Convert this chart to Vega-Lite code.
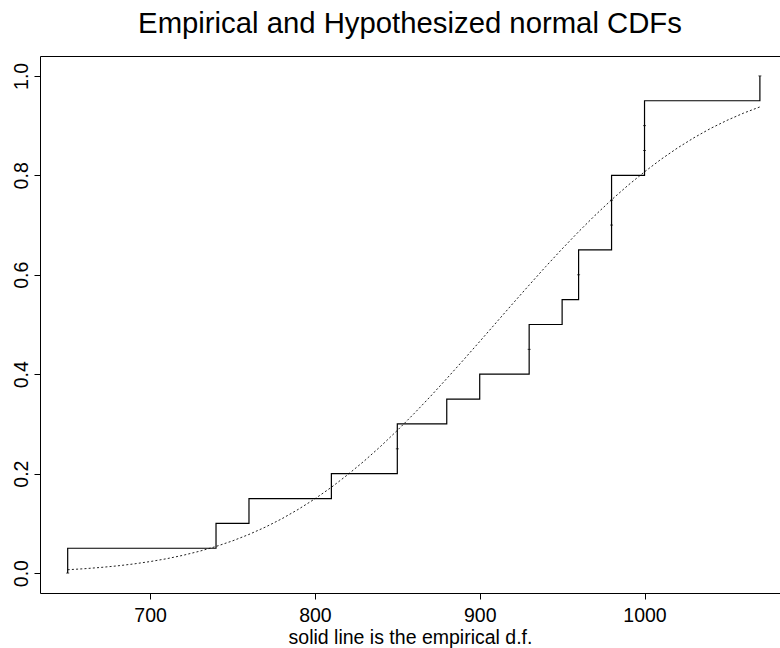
{
  "$schema": "https://vega.github.io/schema/vega-lite/v6.json",
  "width": 740,
  "height": 537,
  "autosize": {"type": "none"},
  "padding": {"left": 40, "top": 56, "right": 0, "bottom": 55},
  "background": "white",
  "config": {
    "view": {"stroke": null},
    "font": "Liberation Sans",
    "axis": {
      "grid": false,
      "domainColor": "black",
      "domainWidth": 1,
      "tickColor": "black",
      "tickWidth": 1,
      "labelColor": "black",
      "titleColor": "black",
      "labelFont": "Liberation Sans",
      "titleFont": "Liberation Sans"
    }
  },
  "title": {
    "text": "Empirical and Hypothesized normal CDFs",
    "fontSize": 29.3,
    "fontWeight": "normal",
    "font": "Liberation Sans",
    "color": "black",
    "anchor": "middle",
    "frame": "group",
    "baseline": "alphabetic",
    "offset": -6
  },
  "datasets": {
    "normal": [
      {"x": 650, "p": 0.0068}, {"x": 660, "p": 0.0088}, {"x": 670, "p": 0.0114},
      {"x": 680, "p": 0.0145}, {"x": 690, "p": 0.0184}, {"x": 700, "p": 0.0232},
      {"x": 710, "p": 0.0289}, {"x": 720, "p": 0.0358}, {"x": 730, "p": 0.0440},
      {"x": 740, "p": 0.0536}, {"x": 750, "p": 0.0648}, {"x": 760, "p": 0.0778},
      {"x": 770, "p": 0.0926}, {"x": 780, "p": 0.1094}, {"x": 790, "p": 0.1284},
      {"x": 800, "p": 0.1494}, {"x": 810, "p": 0.1726}, {"x": 820, "p": 0.1982},
      {"x": 830, "p": 0.2257}, {"x": 840, "p": 0.2553}, {"x": 850, "p": 0.2870},
      {"x": 860, "p": 0.3202}, {"x": 870, "p": 0.3550}, {"x": 880, "p": 0.3912},
      {"x": 890, "p": 0.4282}, {"x": 900, "p": 0.4658}, {"x": 910, "p": 0.5038},
      {"x": 920, "p": 0.5418}, {"x": 930, "p": 0.5793}, {"x": 940, "p": 0.6163},
      {"x": 950, "p": 0.6521}, {"x": 960, "p": 0.6866}, {"x": 970, "p": 0.7196},
      {"x": 980, "p": 0.7508}, {"x": 990, "p": 0.7800}, {"x": 1000, "p": 0.8071},
      {"x": 1010, "p": 0.8322}, {"x": 1020, "p": 0.8550}, {"x": 1030, "p": 0.8756},
      {"x": 1040, "p": 0.8942}, {"x": 1050, "p": 0.9105}, {"x": 1060, "p": 0.9250},
      {"x": 1070, "p": 0.9376}
    ],
    "ecdf": [
      {"ord": 0, "x": 650, "F": 0.0},
      {"ord": 1, "x": 650, "F": 0.05},
      {"ord": 2, "x": 740, "F": 0.10},
      {"ord": 3, "x": 760, "F": 0.15},
      {"ord": 4, "x": 810, "F": 0.20},
      {"ord": 5, "x": 850, "F": 0.30},
      {"ord": 6, "x": 880, "F": 0.35},
      {"ord": 7, "x": 900, "F": 0.40},
      {"ord": 8, "x": 930, "F": 0.50},
      {"ord": 9, "x": 950, "F": 0.55},
      {"ord": 10, "x": 960, "F": 0.65},
      {"ord": 11, "x": 980, "F": 0.80},
      {"ord": 12, "x": 1000, "F": 0.95},
      {"ord": 13, "x": 1070, "F": 1.00}
    ],
    "obs": [
      {"x": 650, "lo": 0.00}, {"x": 850, "lo": 0.25}, {"x": 930, "lo": 0.45},
      {"x": 960, "lo": 0.60}, {"x": 980, "lo": 0.70}, {"x": 980, "lo": 0.75},
      {"x": 1000, "lo": 0.85}, {"x": 1000, "lo": 0.90}, {"x": 1070, "lo": 1.00}
    ]
  },
  "layer": [
    {
      "data": {"name": "normal"},
      "mark": {"type": "line", "stroke": "#222", "strokeWidth": 1, "strokeDash": [2, 2.2]},
      "encoding": {
        "x": {
          "field": "x", "type": "quantitative",
          "scale": {"domain": [633.2, 1082.2], "nice": false, "zero": false},
          "axis": {"orient": "top", "labels": false, "ticks": false, "title": null, "domain": true}
        },
        "y": {
          "field": "p", "type": "quantitative",
          "scale": {"domain": [-0.04, 1.04], "nice": false, "zero": false}
        }
      }
    },
    {
      "data": {"name": "ecdf"},
      "mark": {"type": "line", "interpolate": "step-after", "stroke": "black", "strokeWidth": 1.2},
      "encoding": {
        "x": {
          "field": "x", "type": "quantitative",
          "scale": {"domain": [633.2, 1082.2], "nice": false, "zero": false},
          "axis": {
            "orient": "bottom",
            "values": [700, 800, 900, 1000],
            "format": "d",
            "title": "solid line is the empirical d.f.",
            "tickSize": 6,
            "labelPadding": 22,
            "labelBaseline": "alphabetic",
            "labelFontSize": 19.5,
            "labelFlush": false,
            "labelOverlap": false,
            "titleFontSize": 19.5,
            "titleFontWeight": "normal",
            "titleBaseline": "alphabetic",
            "titleY": 50
          }
        },
        "y": {
          "field": "F", "type": "quantitative",
          "scale": {"domain": [-0.04, 1.04], "nice": false, "zero": false},
          "axis": {
            "values": [0, 0.2, 0.4, 0.6, 0.8, 1.0],
            "format": ".1f",
            "title": null,
            "tickSize": 6,
            "labelAngle": 270,
            "labelAlign": "center",
            "labelBaseline": "alphabetic",
            "labelPadding": 7,
            "labelFontSize": 19.5,
            "labelFlush": false,
            "labelOverlap": false
          }
        },
        "order": {"field": "ord", "type": "quantitative"}
      }
    },
    {
      "data": {"name": "obs"},
      "mark": {"type": "tick", "orient": "horizontal", "color": "black", "size": 3, "thickness": 1},
      "encoding": {
        "x": {"field": "x", "type": "quantitative", "scale": {"domain": [633.2, 1082.2], "nice": false, "zero": false}, "axis": null},
        "y": {"field": "lo", "type": "quantitative", "scale": {"domain": [-0.04, 1.04], "nice": false, "zero": false}}
      }
    }
  ],
  "resolve": {"axis": {"x": "independent"}}
}
